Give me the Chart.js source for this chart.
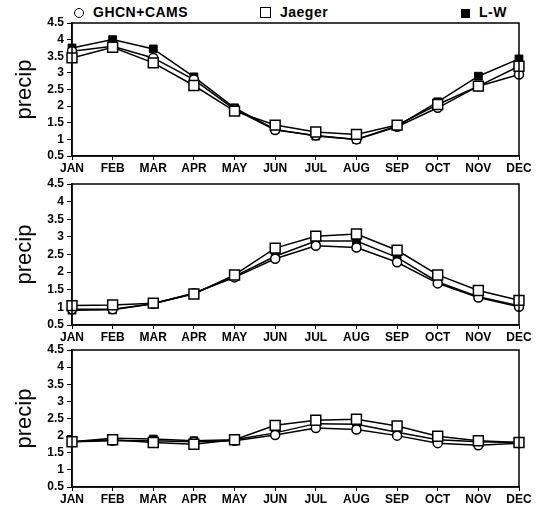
<!DOCTYPE html>
<html>
<head>
<meta charset="utf-8">
<script src="https://cdn.jsdelivr.net/npm/chart.js@4"></script>
<style>
  body { margin: 0; background: #fff; }
  #wrap { position: relative; width: 545px; height: 507px; overflow: hidden; }
  canvas { position: absolute; left: 0; }
  .leg { position: absolute; top: 4px; font: bold 14px "Liberation Sans", Arial, sans-serif; color: #000; letter-spacing: 0.5px; white-space: nowrap; }
  .mk { display: inline-block; width: 9px; height: 9px; border: 1.5px solid #000; margin-right: 9px; vertical-align: -1px; box-sizing: border-box; }
</style>
</head>
<body>
<div id="wrap">
  <div class="leg" style="left:74px"><span class="mk" style="border-radius:50%;width:10px;height:10px"></span>GHCN+CAMS</div>
  <div class="leg" style="left:260px"><span class="mk" style="width:11px;height:11px"></span>Jaeger</div>
  <div class="leg" style="left:461px"><span class="mk" style="background:#000"></span>L-W</div>
  <canvas id="c1" width="545" height="176" style="top:0px"></canvas>
  <canvas id="c2" width="545" height="175" style="top:170px"></canvas>
  <canvas id="c3" width="545" height="171" style="top:336px"></canvas>
</div>
<script>
const months = ['JAN', 'FEB', 'MAR', 'APR', 'MAY', 'JUN', 'JUL', 'AUG', 'SEP', 'OCT', 'NOV', 'DEC'];

// top panel
const ghcn1 = [3.65, 3.8, 3.45, 2.8, 1.9, 1.28, 1.12, 1.0, 1.38, 1.95, 2.6, 2.95];
const jaeger1 = [3.45, 3.77, 3.3, 2.62, 1.85, 1.43, 1.22, 1.15, 1.43, 2.05, 2.6, 3.2];
const lw1 = [3.75, 4.0, 3.72, 2.88, 1.95, 1.3, 1.1, 1.0, 1.4, 2.13, 2.9, 3.42];

// middle panel
const ghcn2 = [0.95, 0.95, 1.1, 1.4, 1.85, 2.38, 2.75, 2.7, 2.28, 1.68, 1.28, 1.02];
const jaeger2 = [1.05, 1.07, 1.12, 1.38, 1.92, 2.68, 3.02, 3.08, 2.62, 1.92, 1.48, 1.2];
const lw2 = [0.92, 0.93, 1.1, 1.4, 1.88, 2.45, 2.88, 2.88, 2.42, 1.72, 1.3, 1.05];

// bottom panel
const ghcn3 = [1.82, 1.85, 1.85, 1.82, 1.85, 2.02, 2.22, 2.18, 2.0, 1.78, 1.72, 1.78];
const jaeger3 = [1.82, 1.88, 1.8, 1.75, 1.88, 2.3, 2.45, 2.48, 2.28, 1.98, 1.85, 1.8];
const lw3 = [1.82, 1.92, 1.9, 1.85, 1.88, 2.08, 2.35, 2.33, 2.1, 1.88, 1.82, 1.8];

const yTicks = [0.5, 1, 1.5, 2, 2.5, 3, 3.5, 4, 4.5];

const tickFont = { family: '"Liberation Sans", Arial, sans-serif', size: 12, weight: 'bold' };

// box round the plot area
const frame = {
    id: 'frame',
    afterDraw(chart) {
        const a = chart.chartArea;
        const ctx = chart.ctx;
        ctx.save();
        ctx.strokeStyle = '#000';
        ctx.lineWidth = 1.5;
        ctx.strokeRect(a.left, a.top, a.right - a.left, a.bottom - a.top);
        ctx.restore();
    }
};

function makeChart(id, padTop, ghcn, jaeger, lw) {
    const ctx = document.getElementById(id).getContext('2d');
    return new Chart(ctx, {
        type: 'line',
        data: {
            labels: months,
            datasets: [{
                label: 'Jaeger',
                data: jaeger,
                borderColor: '#000',
                borderWidth: 1.5,
                pointStyle: 'rect',
                pointRadius: 7,
                pointBorderWidth: 1.5,
                pointBackgroundColor: '#fff',
                pointBorderColor: '#000',
                order: 1
            }, {
                label: 'GHCN+CAMS',
                data: ghcn,
                borderColor: '#000',
                borderWidth: 1.5,
                pointStyle: 'circle',
                pointRadius: 4.5,
                pointBorderWidth: 1.5,
                pointBackgroundColor: '#fff',
                pointBorderColor: '#000',
                order: 2
            }, {
                label: 'L-W',
                data: lw,
                borderColor: '#000',
                borderWidth: 1.5,
                pointStyle: 'rect',
                pointRadius: 5.5,
                pointBorderWidth: 1,
                pointBackgroundColor: '#000',
                pointBorderColor: '#000',
                order: 3
            }]
        },
        options: {
            responsive: false,
            animation: false,
            layout: { padding: { top: padTop, right: 26, left: 0, bottom: 0 } },
            plugins: { legend: { display: false }, tooltip: { enabled: false } },
            scales: {
                x: {
                    offset: false,
                    grid: { display: true, drawOnChartArea: false, tickLength: 4, color: '#000' },
                    border: { color: '#000', width: 1.5 },
                    ticks: { color: '#000', font: tickFont, padding: 1, autoSkip: false, maxRotation: 0 },
                    afterFit: s => { s.height = 20; }
                },
                y: {
                    min: 0.5,
                    max: 4.5,
                    afterBuildTicks: s => { s.ticks = yTicks.map(v => ({ value: v })); },
                    grid: { display: true, drawOnChartArea: false, tickLength: 5, color: '#000' },
                    border: { color: '#000', width: 1.5 },
                    ticks: {
                        color: '#000',
                        font: tickFont,
                        padding: 3,
                        autoSkip: false,
                        callback: v => String(v)
                    },
                    title: {
                        display: true,
                        text: 'precip',
                        color: '#000',
                        font: { family: '"Liberation Sans", Arial, sans-serif', size: 22 },
                        padding: { top: 12, bottom: 0 }
                    },
                    afterFit: s => { s.width = 72; }
                }
            }
        },
        plugins: [frame]
    });
}

makeChart('c1', 23, ghcn1, jaeger1, lw1);
makeChart('c2', 14, ghcn2, jaeger2, lw2);
makeChart('c3', 14, ghcn3, jaeger3, lw3);
</script>
</body>
</html>
